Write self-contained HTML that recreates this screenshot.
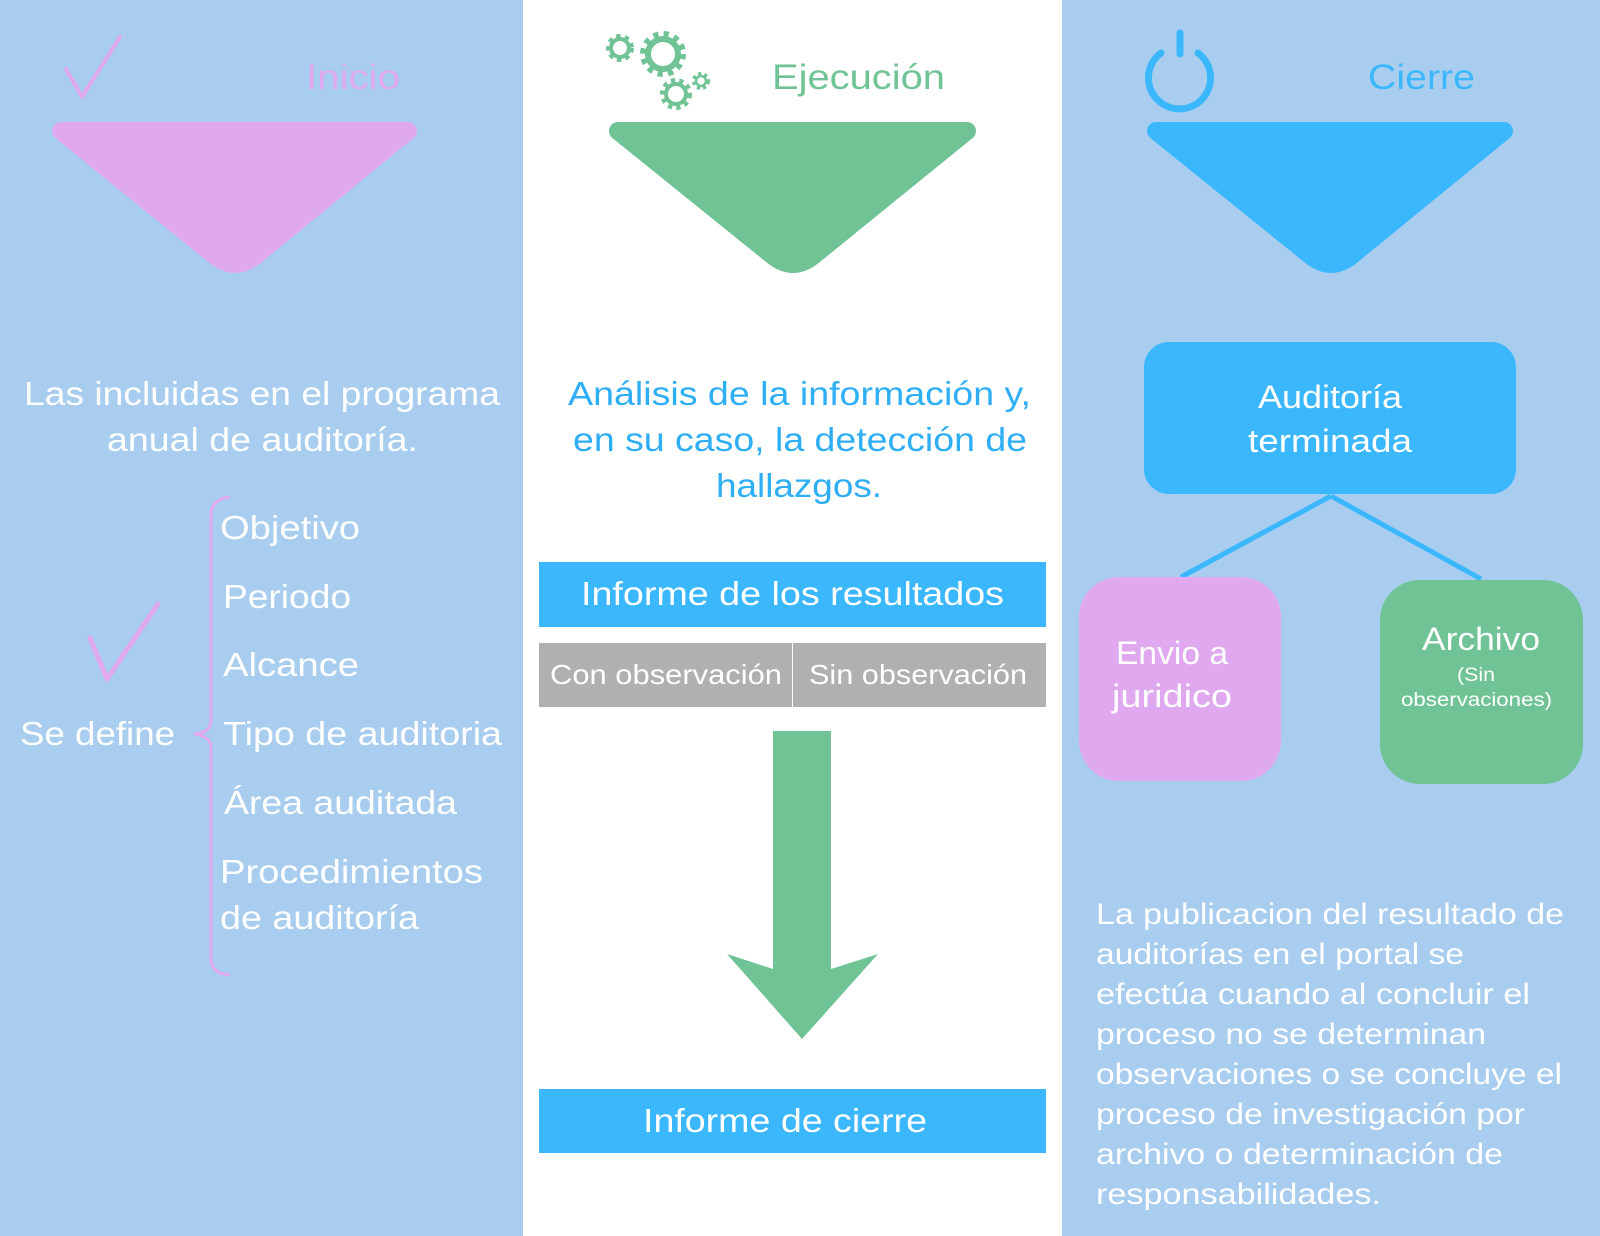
<!DOCTYPE html>
<html><head><meta charset="utf-8"><style>
html,body{margin:0;padding:0;width:1600px;height:1236px;overflow:hidden;background:#fff}
svg{display:block}
text{font-family:"Liberation Sans",sans-serif}
</style></head><body>
<svg width="1600" height="1236" viewBox="0 0 1600 1236" xmlns="http://www.w3.org/2000/svg">
<rect x="0" y="0" width="523" height="1236" fill="#a8cdee"/>
<rect x="523" y="0" width="539" height="1236" fill="#ffffff"/>
<rect x="1062" y="0" width="538" height="1236" fill="#a8cdee"/>

<!-- triangles -->
<path d="M61,131 L408,131 L255,256 Q235,272 215,256 Z" fill="#e0a9ef" stroke="#e0a9ef" stroke-width="18" stroke-linejoin="round"/>
<path d="M618,131 L967,131 L813,256 Q793,272 773,256 Z" fill="#6fc394" stroke="#6fc394" stroke-width="18" stroke-linejoin="round"/>
<path d="M1156,131 L1504,131 L1351,256 Q1331,272 1311,256 Z" fill="#3bb7fd" stroke="#3bb7fd" stroke-width="18" stroke-linejoin="round"/>

<!-- checkmarks -->
<polyline points="66,69 82,97 120,37" fill="none" stroke="#e0a9ef" stroke-width="4" stroke-linecap="round" stroke-linejoin="round"/>
<polyline points="90,638 107,679 158,604" fill="none" stroke="#e0a9ef" stroke-width="5" stroke-linecap="round" stroke-linejoin="round"/>

<!-- gears -->
<g fill="none" stroke="#6fc394">
<circle cx="663" cy="54" r="19" stroke-width="8" stroke-dasharray="5 5"/>
<circle cx="663" cy="54" r="15" stroke-width="6"/>
<circle cx="620" cy="48" r="11" stroke-width="6" stroke-dasharray="4 4"/>
<circle cx="620" cy="48" r="9" stroke-width="4"/>
<circle cx="676" cy="94" r="13" stroke-width="6" stroke-dasharray="4 4"/>
<circle cx="676" cy="94" r="10" stroke-width="4"/>
<circle cx="701" cy="81" r="7" stroke-width="4" stroke-dasharray="3 3"/>
<circle cx="701" cy="81" r="5" stroke-width="2.5"/>
</g>

<!-- power icon -->
<path d="M1161,53 A31,31 0 1,0 1198,53" fill="none" stroke="#3bb7fd" stroke-width="7" stroke-linecap="round"/>
<line x1="1180" y1="33" x2="1180" y2="54" stroke="#3bb7fd" stroke-width="7" stroke-linecap="round"/>

<!-- titles -->
<text x="306" y="89" font-size="35" fill="#e0a9ef" textLength="94" lengthAdjust="spacingAndGlyphs">Inicio</text>
<text x="772" y="89" font-size="35" fill="#6fc394" textLength="173" lengthAdjust="spacingAndGlyphs">Ejecución</text>
<text x="1368" y="89" font-size="35" fill="#3bb7fd" textLength="107" lengthAdjust="spacingAndGlyphs">Cierre</text>

<!-- left text -->
<g fill="#ffffff" font-size="33">
<text x="24" y="405" textLength="476" lengthAdjust="spacingAndGlyphs">Las incluidas en el programa</text>
<text x="107" y="451" textLength="311" lengthAdjust="spacingAndGlyphs">anual de auditoría.</text>
<text x="220" y="539" textLength="140" lengthAdjust="spacingAndGlyphs">Objetivo</text>
<text x="223" y="608" textLength="128" lengthAdjust="spacingAndGlyphs">Periodo</text>
<text x="223" y="676" textLength="136" lengthAdjust="spacingAndGlyphs">Alcance</text>
<text x="223" y="745" textLength="279" lengthAdjust="spacingAndGlyphs">Tipo de auditoria</text>
<text x="224" y="814" textLength="233" lengthAdjust="spacingAndGlyphs">Área auditada</text>
<text x="220" y="883" textLength="263" lengthAdjust="spacingAndGlyphs">Procedimientos</text>
<text x="220" y="929" textLength="199" lengthAdjust="spacingAndGlyphs">de auditoría</text>
<text x="20" y="745" textLength="155" lengthAdjust="spacingAndGlyphs">Se define</text>
</g>
<path d="M230,497 Q211,499 211,515 L211,720 Q211,733 194,734 Q211,736 211,748 L211,958 Q211,974 230,975" fill="none" stroke="#e0a9ef" stroke-width="3"/>

<!-- middle -->
<g fill="#2eaef5" font-size="33">
<text x="568" y="405" textLength="463" lengthAdjust="spacingAndGlyphs">Análisis de la información y,</text>
<text x="573" y="451" textLength="454" lengthAdjust="spacingAndGlyphs">en su caso, la detección de</text>
<text x="716" y="497" textLength="166" lengthAdjust="spacingAndGlyphs">hallazgos.</text>
</g>
<rect x="539" y="562" width="507" height="65" fill="#3bb7fd"/>
<text x="581" y="605" font-size="33" fill="#fff" textLength="423" lengthAdjust="spacingAndGlyphs">Informe de los resultados</text>
<rect x="539" y="643" width="253" height="64" fill="#b0b0b0"/>
<rect x="793" y="643" width="253" height="64" fill="#b0b0b0"/>
<text x="550" y="684" font-size="28" fill="#fff" textLength="232" lengthAdjust="spacingAndGlyphs">Con observación</text>
<text x="809" y="684" font-size="28" fill="#fff" textLength="218" lengthAdjust="spacingAndGlyphs">Sin observación</text>
<polygon points="773,731 831,731 831,969 878,954 802,1039 727,954 773,969" fill="#6fc394"/>
<rect x="539" y="1089" width="507" height="64" fill="#3bb7fd"/>
<text x="643" y="1132" font-size="33" fill="#fff" textLength="284" lengthAdjust="spacingAndGlyphs">Informe de cierre</text>

<!-- right -->
<rect x="1144" y="342" width="372" height="152" rx="25" fill="#3bb7fd"/>
<text x="1258" y="408" font-size="32" fill="#fff" textLength="144" lengthAdjust="spacingAndGlyphs">Auditoría</text>
<text x="1248" y="452" font-size="32" fill="#fff" textLength="164" lengthAdjust="spacingAndGlyphs">terminada</text>
<line x1="1331" y1="496" x2="1181" y2="577" stroke="#3bb7fd" stroke-width="5"/>
<line x1="1331" y1="496" x2="1481" y2="579" stroke="#3bb7fd" stroke-width="5"/>
<rect x="1079" y="577" width="202" height="204" rx="40" fill="#e0a9ef"/>
<text x="1116" y="664" font-size="32" fill="#fff" textLength="112" lengthAdjust="spacingAndGlyphs">Envio a</text>
<text x="1112" y="707" font-size="32" fill="#fff" textLength="120" lengthAdjust="spacingAndGlyphs">juridico</text>
<rect x="1380" y="580" width="203" height="204" rx="40" fill="#6fc394"/>
<text x="1422" y="650" font-size="32" fill="#fff" textLength="118" lengthAdjust="spacingAndGlyphs">Archivo</text>
<text x="1457" y="681" font-size="19" fill="#fff" textLength="38" lengthAdjust="spacingAndGlyphs">(Sin</text>
<text x="1401" y="706" font-size="19" fill="#fff" textLength="151" lengthAdjust="spacingAndGlyphs">observaciones)</text>

<g fill="#ffffff" font-size="30">
<text x="1096" y="924" textLength="468" lengthAdjust="spacingAndGlyphs">La publicacion del resultado de</text>
<text x="1096" y="964" textLength="368" lengthAdjust="spacingAndGlyphs">auditorías en el portal se</text>
<text x="1096" y="1004" textLength="434" lengthAdjust="spacingAndGlyphs">efectúa cuando al concluir el</text>
<text x="1096" y="1044" textLength="390" lengthAdjust="spacingAndGlyphs">proceso no se determinan</text>
<text x="1096" y="1084" textLength="466" lengthAdjust="spacingAndGlyphs">observaciones o se concluye el</text>
<text x="1096" y="1124" textLength="429" lengthAdjust="spacingAndGlyphs">proceso de investigación por</text>
<text x="1096" y="1164" textLength="407" lengthAdjust="spacingAndGlyphs">archivo o determinación de</text>
<text x="1096" y="1204" textLength="285" lengthAdjust="spacingAndGlyphs">responsabilidades.</text>
</g>
</svg>
</body></html>
